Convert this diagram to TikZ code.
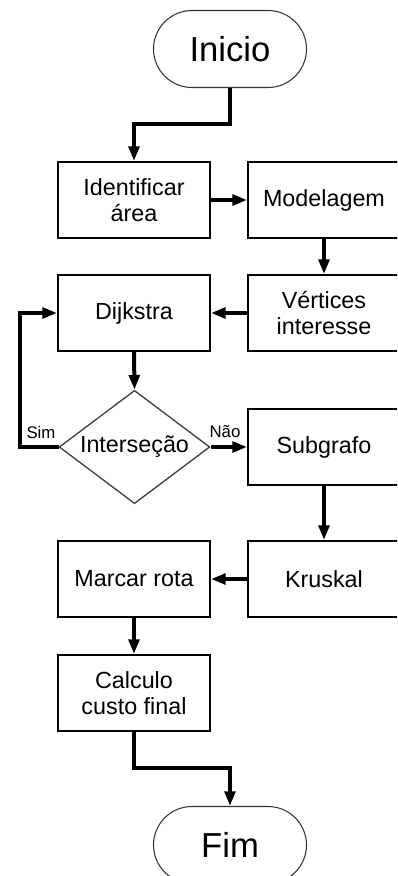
\documentclass[tikz,border=0pt]{standalone}
\usepackage{fontspec}
\setmainfont{Liberation Sans}
\usetikzlibrary{shapes.geometric,shapes.misc,arrows.meta}
\begin{document}
\begin{tikzpicture}[x=0.75pt,y=-0.75pt,
  box/.style={draw=black,line width=1.5pt,rectangle,minimum width=114pt,minimum height=57pt,inner sep=0pt,align=center,font=\fontsize{17.5}{20}\selectfont},
  term/.style={draw=black!80,line width=0.8pt,rounded rectangle,minimum width=114.75pt,minimum height=57.75pt,inner sep=0pt,font=\fontsize{26}{30}\selectfont},
  decis/.style={draw=black!75,line width=1pt,diamond,aspect=1.336,minimum width=113pt,minimum height=85pt,inner sep=0pt,font=\fontsize{17.5}{20}\selectfont},
  conn/.style={line width=3pt,-{Triangle[length=11pt,width=8pt]}},
  lbl/.style={inner sep=0pt,font=\fontsize{12.6}{14}\selectfont}]
\clip (0,0) rectangle (397,876);
\fill[white] (0,0) rectangle (397,876);
\node[term] (ini) at (230,49) {Inicio};
\node[box] (ida) at (134,200) {Identificar\\área};
\node[box] (mod) at (324,200) {Modelagem};
\node[box] (ver) at (324,313) {Vértices\\interesse};
\node[box] (dij) at (134,313) {Dijkstra};
\node[decis] (dec) at (134.5,447) {Interseção};
\node[box] (sub) at (324,447) {Subgrafo};
\node[box] (kru) at (324,579) {Kruskal};
\node[box] (mar) at (134,579) {Marcar rota};
\node[box] (cal) at (134,693) {Calculo\\custo final};
\node[term] (fim) at (230,845) {Fim};
\node[lbl] (sim) at (41,432) {Sim};
\node[lbl] (nao) at (225,432) {Não};
\coordinate (simturn) at (20,447);
\draw[conn] (ini.south) -- (ini.south |- 0,124) -| (ida.north);
\draw[conn] (ida.east) -- (mod.west);
\draw[conn] (mod.south) -- (ver.north);
\draw[conn] (ver.west) -- (dij.west -| dij.east);
\draw[conn] (dij.south) -- (dec.north);
\draw[conn] (dec.west) -- (simturn) |- (dij.west);
\draw[conn] (dec.east) -- (sub.west);
\draw[conn] (sub.south) -- (kru.north);
\draw[conn] (kru.west) -- (mar.east);
\draw[conn] (mar.south) -- (cal.north);
\draw[conn] (cal.south) -- (cal.south |- 0,768) -| (fim.north);
\end{tikzpicture}
\end{document}
